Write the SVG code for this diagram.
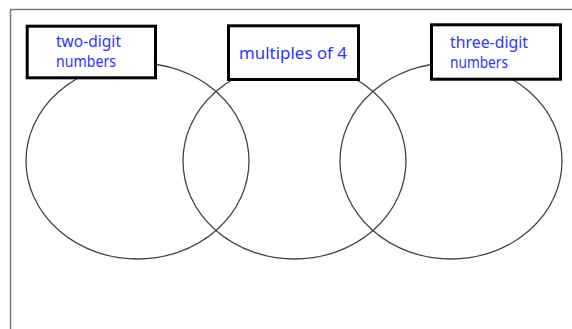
<svg xmlns="http://www.w3.org/2000/svg" width="572" height="329" viewBox="0 0 572 329">
<style>
.frame{fill:none;stroke:#777;stroke-width:1.5}
.set{fill:none;stroke:#444;stroke-width:1.3}
.box{fill:#fff;stroke:#000;stroke-width:3}
.lbl{font-family:"Noto Sans","DejaVu Sans",sans-serif;font-size:16px;fill:#3333ff}
</style>
<rect width="572" height="329" fill="#fff"/>
<path class="frame" d="M572 9.5H10.5V329"/>
<g id="connectors"></g>
<g id="set-two-digit"><ellipse class="set" cx="137.5" cy="161" rx="111.5" ry="98"/></g>
<g id="set-multiples"><ellipse class="set" cx="294.5" cy="161" rx="111.5" ry="98"/></g>
<g id="set-three-digit"><ellipse class="set" cx="451" cy="161" rx="111" ry="98"/></g>
<g id="label-two-digit">
<rect class="box" x="27.2" y="26.2" width="128.3" height="51.6"/>
<text class="lbl" x="56" y="47" textLength="65" lengthAdjust="spacingAndGlyphs">two-digit</text>
<text class="lbl" x="56" y="67" textLength="60" lengthAdjust="spacingAndGlyphs">numbers</text>
</g>
<g id="label-multiples">
<rect class="box" x="228.5" y="25.8" width="130" height="53.7"/>
<text class="lbl" x="239" y="59" textLength="108" lengthAdjust="spacingAndGlyphs">multiples of 4</text>
</g>
<g id="label-three-digit">
<rect class="box" x="431.5" y="24.8" width="129" height="54.4"/>
<text class="lbl" x="450" y="48" textLength="78" lengthAdjust="spacingAndGlyphs">three-digit</text>
<text class="lbl" x="450" y="68" textLength="58" lengthAdjust="spacingAndGlyphs">numbers</text>
</g>
</svg>
